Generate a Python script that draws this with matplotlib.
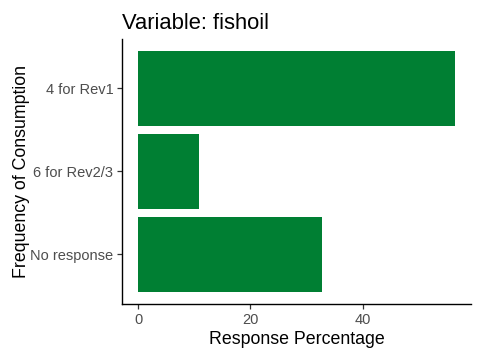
import matplotlib
matplotlib.use("Agg")
import matplotlib.pyplot as plt

plt.rcParams['font.family'] = ['Liberation Sans', 'DejaVu Sans']

categories = ["No response", "6 for Rev2/3", "4 for Rev1"]
percentages = [32.7, 10.9, 56.5]
xticks = [0, 20, 40]

fig = plt.figure(figsize=(4.8, 3.6), dpi=100)
ax = fig.add_axes([122.5 / 480, 1 - 304 / 360, (471 - 122.5) / 480, (304 - 38.5) / 360])

pos = list(range(1, len(categories) + 1))
ax.barh(pos, percentages, height=0.9, color="#007F33")

span = max(percentages)
ax.set_xlim(-0.05 * span, 1.05 * span)
ax.set_ylim(0.4, len(categories) + 0.6)
ax.set_yticks(pos)
ax.set_yticklabels(categories)
ax.set_xticks(xticks)

for side in ["top", "right"]:
    ax.spines[side].set_visible(False)
for side in ["left", "bottom"]:
    ax.spines[side].set_linewidth(1.0)
    ax.spines[side].set_color("black")

ax.tick_params(axis="both", length=3.5, width=0.9, color="#333333",
               labelcolor="#4D4D4D", labelsize=10.5, pad=3)

ax.set_xlabel("Response Percentage", fontsize=12.75, labelpad=3)
ax.set_ylabel("Frequency of Consumption", fontsize=12.75, labelpad=0)
ax.set_title("Variable: fishoil", loc="left", fontsize=15.8, pad=7)

fig.savefig("out.png", dpi=100)
